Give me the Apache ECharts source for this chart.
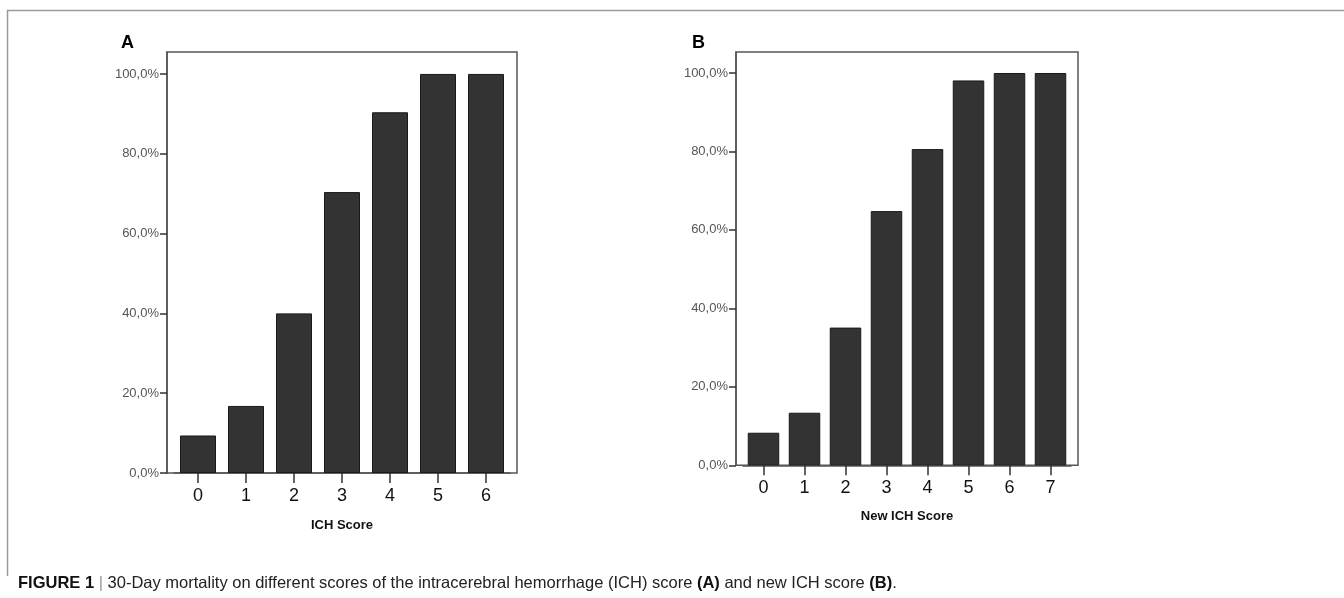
<!DOCTYPE html>
<html>
<head>
<meta charset="utf-8">
<script src="https://cdn.jsdelivr.net/npm/echarts@6/dist/echarts.min.js"></script>
<style>
  html, body { margin: 0; padding: 0; background: #fff; }
  #chart { width: 1344px; height: 598px; }
</style>
</head>
<body>
<div id="chart"></div>
<script>
// categories
const scoresA = ['0', '1', '2', '3', '4', '5', '6']
const scoresB = ['0', '1', '2', '3', '4', '5', '6', '7']
// 30-day mortality (%)
const mortalityA = [9.4, 16.8, 40.0, 70.4, 90.4, 100, 100]
const mortalityB = [8.3, 13.4, 35.1, 64.8, 80.6, 98.1, 100, 100]
// y tick labels
const yTicks = [0, 20, 40, 60, 80, 100]

const sans = '"Liberation Sans", Arial, sans-serif'

const fmtPct = v => v.toFixed(1).replace('.', ',') + '%'

function xAxisOf(idx, data, name, gap) {
  return {
    type: 'category',
    gridIndex: idx,
    data: data,
    boundaryGap: true,
    name: name,
    nameLocation: 'middle',
    nameGap: gap,
    nameTextStyle: { fontFamily: sans, fontWeight: 'bold', fontSize: 13, color: '#111' },
    axisLine: { show: true, lineStyle: { color: '#555', width: 1.5 } },
    axisTick: { show: true, alignWithLabel: true, length: 10, lineStyle: { color: '#333', width: 1.5 } },
    axisLabel: { margin: 14, fontFamily: sans, fontSize: 18, color: '#111' },
    splitLine: { show: false }
  }
}

function yAxisOf(idx, max) {
  return {
    type: 'value',
    gridIndex: idx,
    min: 0,
    max: max,
    offset: 7,
    axisLine: { show: true, lineStyle: { color: '#555', width: 1.5 } },
    axisTick: { show: true, length: 7, customValues: yTicks, lineStyle: { color: '#333', width: 1.5 } },
    axisLabel: { customValues: yTicks, margin: 8, formatter: fmtPct, fontFamily: sans, fontSize: 13, color: '#555' },
    splitLine: { show: false }
  }
}

const barStyle = { color: '#333333', borderColor: '#1a1a1a', borderWidth: 1 }

const option = {
  backgroundColor: '#fff',
  animation: false,
  title: [
    { text: 'A', left: 116, top: 29, textStyle: { fontFamily: sans, fontWeight: 'bold', fontSize: 18, color: '#000' } },
    { text: 'B', left: 687, top: 29, textStyle: { fontFamily: sans, fontWeight: 'bold', fontSize: 18, color: '#000' } }
  ],
  grid: [
    { left: 174, top: 52, width: 336, height: 421 },
    { left: 743, top: 52, width: 328, height: 413.3 }
  ],
  xAxis: [
    xAxisOf(0, scoresA, 'ICH Score', 46),
    xAxisOf(1, scoresB, 'New ICH Score', 45)
  ],
  yAxis: [
    yAxisOf(0, 105.5),
    yAxisOf(1, 105.35)
  ],
  series: [
    { type: 'bar', xAxisIndex: 0, yAxisIndex: 0, data: mortalityA, barWidth: 36, itemStyle: barStyle },
    { type: 'bar', xAxisIndex: 1, yAxisIndex: 1, data: mortalityB, barWidth: 31.5, itemStyle: barStyle }
  ],
  graphic: [
    // outer figure frame (top and left)
    { type: 'polyline', silent: true, shape: { points: [[7.5, 576], [7.5, 10.5], [1344, 10.5]] },
      style: { stroke: '#9a9a9a', lineWidth: 1.5, fill: null } },
    // plot boxes
    { type: 'rect', silent: true, shape: { x: 167, y: 52, width: 350, height: 421 },
      style: { stroke: '#555', lineWidth: 1.5, fill: null } },
    { type: 'rect', silent: true, shape: { x: 736, y: 52, width: 342, height: 413.3 },
      style: { stroke: '#555', lineWidth: 1.5, fill: null } },
    // caption
    { type: 'text', silent: true, left: 18, top: 575,
      style: {
        text: '{b|FIGURE 1} {s||} 30-Day mortality on different scores of the intracerebral hemorrhage (ICH) score {b|(A)} and new ICH score {b|(B)}.',
        font: '16.5px ' + sans,
        fill: '#222',
        rich: {
          b: { fontFamily: sans, fontWeight: 'bold', fontSize: 16.5, fill: '#111' },
          s: { fontFamily: sans, fontSize: 16.5, fill: '#999' }
        }
      } }
  ]
}

const myChart = echarts.init(document.getElementById('chart'))
myChart.setOption(option)
</script>
</body>
</html>
